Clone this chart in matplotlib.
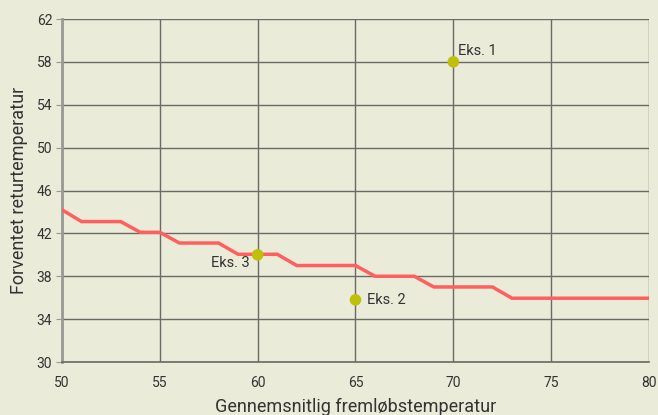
import matplotlib
matplotlib.use("Agg")
import matplotlib.pyplot as plt

# Data
curve_x = [50, 51, 53, 54, 55, 56, 58, 59, 61, 62, 65, 66, 68, 69, 72, 73, 80]
curve_y = [44.2, 43.1, 43.1, 42.1, 42.1, 41.1, 41.1, 40.05, 40.05, 39.0, 39.0, 38.0, 38.0, 37.0, 37.0, 35.95, 35.95]
ex_labels = ["Eks. 1", "Eks. 2", "Eks. 3"]
ex_x = [70, 65, 60]
ex_y = [58, 35.8, 40]
x_ticks = [50, 55, 60, 65, 70, 75, 80]
y_ticks = [30, 34, 38, 42, 46, 50, 54, 58, 62]

bg = "#EAEBD8"
grid_c = "#6a6a66"
plt.rcParams['font.family'] = ['Roboto', 'DejaVu Sans']

fig = plt.figure(figsize=(6.58, 4.15), dpi=100, facecolor=bg)
ax = fig.add_axes([62/658, 53/415, 587/658, 343/415], facecolor=bg)

ax.set_xlim(50, 80)
ax.set_ylim(30, 62)
ax.set_xticks(x_ticks)
ax.set_yticks(y_ticks)
ax.grid(True, color=grid_c, linewidth=1.0)
ax.set_axisbelow(True)
for s in ["top", "right"]:
    ax.spines[s].set_visible(False)
ax.spines["bottom"].set_color(grid_c)
ax.spines["bottom"].set_linewidth(1.2)
ax.spines["left"].set_color("#9a9a95")
ax.spines["left"].set_linewidth(2)
ax.tick_params(axis="y", length=4, color="#9a9a95", labelsize=10, labelcolor="#333333", pad=3)
ax.tick_params(axis="x", length=0, labelsize=10, labelcolor="#333333", pad=10)

ax.plot(curve_x, curve_y, color="#FF5F5F", linewidth=2.5, zorder=3, solid_joinstyle="miter")
ax.scatter(ex_x, ex_y, s=70, color="#BFC00A", zorder=4, edgecolors="none")

offsets = {"Eks. 1": (3, 3, "left", "bottom"), "Eks. 2": (8, 0, "left", "center"), "Eks. 3": (-6, -6, "right", "center")}
for lab, xv, yv in zip(ex_labels, ex_x, ex_y):
    dx, dy, ha, va = offsets[lab]
    ax.annotate(lab, (xv, yv), xytext=(dx, dy), textcoords="offset points",
                ha=ha, va=va, fontsize=10.5, color="#333333", zorder=5)

ax.set_xlabel("Gennemsnitlig fremløbstemperatur", fontsize=13, color="#333333", labelpad=6)
ax.set_ylabel("Forventet returtemperatur", fontsize=13, color="#333333", labelpad=6)

fig.savefig("out.png", dpi=100, facecolor=bg)
